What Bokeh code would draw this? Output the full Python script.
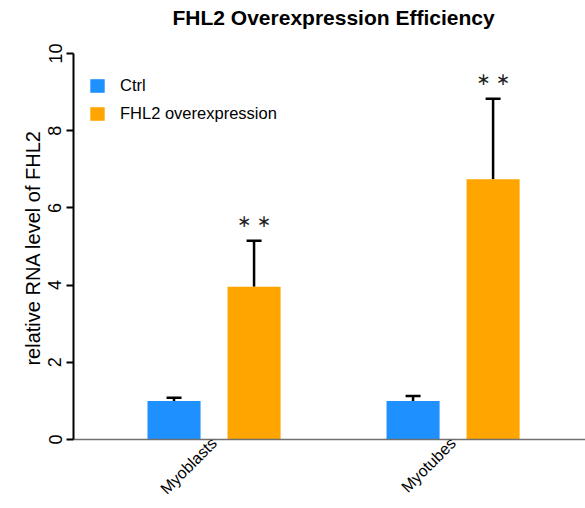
from bokeh.plotting import figure
from bokeh.models import (Range1d, FixedTicker, ColumnDataSource, Whisker, TeeHead,
                          Legend, LegendItem)
from bokeh.core.properties import value
from bokeh.embed import file_html
from bokeh.resources import INLINE
import math

# ---- data ----
title_text = "FHL2 Overexpression Efficiency"
y_label = "relative RNA level of FHL2"
categories = ["Myoblasts", "Myotubes"]
series_names = ["Ctrl", "FHL2 overexpression"]
ctrl_mean = [1.00, 1.00]
ctrl_err = [0.08, 0.13]
fhl2_mean = [3.96, 6.74]
fhl2_err = [1.19, 2.09]
fhl2_sig = ["\u2217 \u2217", "\u2217 \u2217"]
y_ticks = [0, 2, 4, 6, 8, 10]

colors = ["#1E90FF", "#FFA500"]
FONT = "Liberation Sans"

group_x = [i + 1 for i in range(len(categories))]
offset = 0.1674
bar_w = 0.222

# frame spans the full height above the x axis (439 px); the axis scale covers 0..10 over 386 px
y_max = y_ticks[-1]
px_per_unit = 38.6
frame_h = 439
y_top = frame_h / px_per_unit

p = figure(width=585, height=508, output_backend="svg", toolbar_location=None,
           x_range=Range1d(0.412, 2.554), y_range=Range1d(0, y_top),
           min_border_left=73, min_border_right=0, min_border_top=0, min_border_bottom=69)
p.outline_line_color = None
p.xgrid.visible = False
p.ygrid.visible = False

# title, drawn inside the (tall) frame above the axis range
title_src = ColumnDataSource(dict(x=[sum(group_x) / len(group_x)],
                                  y=[y_max + (53 - 17) / px_per_unit], t=[title_text]))
p.text(x="x", y="y", text="t", source=title_src, text_font=value(FONT),
       text_font_size="21px", text_font_style="bold", text_align="center",
       text_baseline="middle", text_color="black")

ctrl_src = ColumnDataSource(dict(x=[g - offset for g in group_x], top=ctrl_mean,
                                 upper=[m + e for m, e in zip(ctrl_mean, ctrl_err)]))
fhl_src = ColumnDataSource(dict(x=[g + offset for g in group_x], top=fhl2_mean,
                                upper=[m + e for m, e in zip(fhl2_mean, fhl2_err)],
                                sig=fhl2_sig,
                                sig_y=[m + e + 0.5 for m, e in zip(fhl2_mean, fhl2_err)]))

r1 = p.vbar(x="x", top="top", width=bar_w, source=ctrl_src, fill_color=colors[0], line_color=None)
r2 = p.vbar(x="x", top="top", width=bar_w, source=fhl_src, fill_color=colors[1], line_color=None)

for src in (ctrl_src, fhl_src):
    w = Whisker(base="x", lower="top", upper="upper", source=src, dimension="height",
                line_color="black", line_width=2.5,
                upper_head=TeeHead(size=15, line_width=2.5, line_color="black"),
                lower_head=None)
    p.add_layout(w)

p.text(x="x", y="sig_y", text="sig", source=fhl_src, text_font=value("DejaVu Sans"),
       text_font_size="17px", text_align="center", text_baseline="middle", text_color="#222222")

# axes
p.yaxis.ticker = FixedTicker(ticks=y_ticks)
p.yaxis.bounds = (0, y_max)
p.yaxis.minor_tick_line_color = None
p.yaxis.major_tick_out = 7
p.yaxis.major_tick_in = 0
p.yaxis.major_tick_line_width = 2
p.yaxis.axis_line_width = 2
p.yaxis.axis_line_color = "black"
p.yaxis.major_label_orientation = "vertical"
p.yaxis.major_label_text_font = FONT
p.yaxis.major_label_text_font_size = "18px"
p.yaxis.major_label_text_color = "black"
p.yaxis.major_label_standoff = 5
# trailing no-break spaces centre the visible label on the 0..10 axis span
p.yaxis.axis_label = y_label + "\u00a0" * 10
p.yaxis.axis_label_text_font = FONT
p.yaxis.axis_label_text_font_size = "20px"
p.yaxis.axis_label_text_font_style = "normal"
p.yaxis.axis_label_text_color = "black"
p.yaxis.axis_label_standoff = 2

p.xaxis.ticker = FixedTicker(ticks=group_x)
p.xaxis.major_label_overrides = {g: c for g, c in zip(group_x, categories)}
p.xaxis.minor_tick_line_color = None
p.xaxis.major_tick_line_color = None
p.xaxis.major_tick_out = 0
p.xaxis.major_tick_in = 0
p.xaxis.axis_line_color = "#707070"
p.xaxis.axis_line_width = 1.5
p.xaxis.major_label_orientation = math.pi / 4
p.xaxis.major_label_text_font = FONT
p.xaxis.major_label_text_font_size = "16px"
p.xaxis.major_label_text_color = "black"
p.xaxis.major_label_standoff = 1

legend = Legend(items=[LegendItem(label=series_names[0], renderers=[r1]),
                       LegendItem(label=series_names[1], renderers=[r2])],
                location=(15, 316), glyph_width=18, glyph_height=17, spacing=8,
                label_standoff=14, padding=0, margin=0, border_line_color=None,
                background_fill_alpha=0, label_text_font=FONT, label_text_font_size="16.5px",
                label_text_color="black", label_height=20)
p.add_layout(legend)

open("out.html", "w").write(file_html(p, INLINE))
